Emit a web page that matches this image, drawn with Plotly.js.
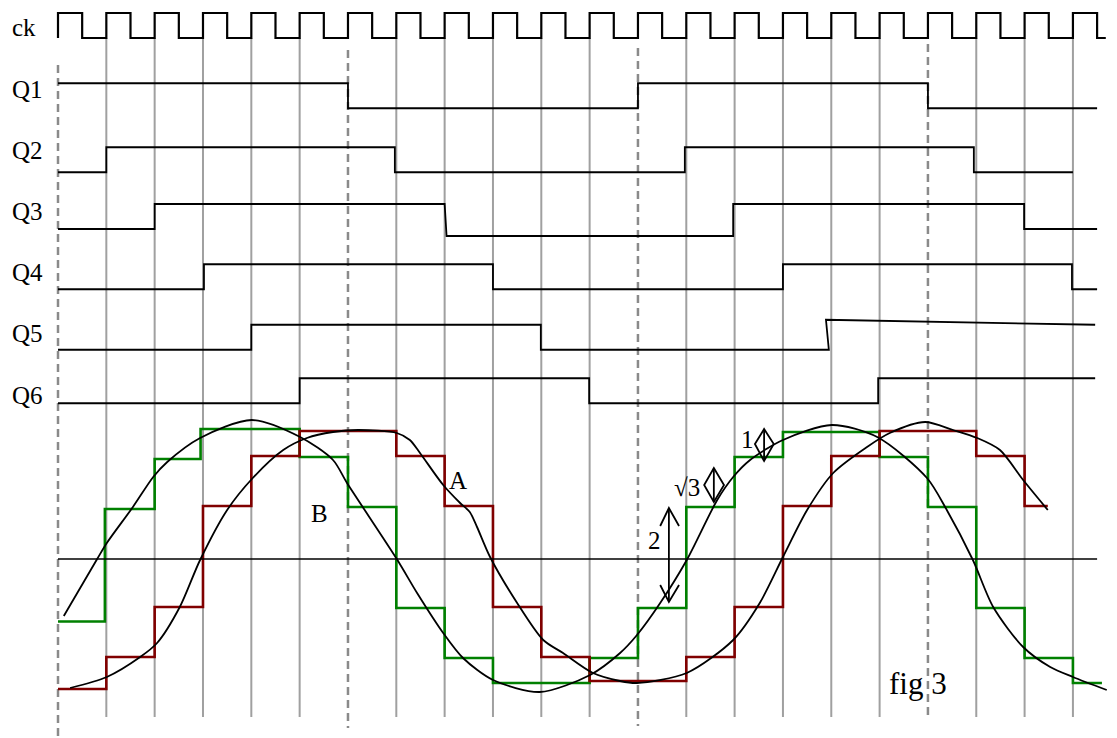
<!DOCTYPE html>
<html><head><meta charset="utf-8">
<script src="https://cdn.plot.ly/plotly-3.0.1.min.js"></script>
<style>html,body{margin:0;padding:0;background:#fff}#chart{width:1117px;height:738px}</style>
</head><body><div id="chart"></div>
<script>
// ---------- DATA (x in clock periods, y in level units) ----------
const ckT = [0, 0,0.5, 1,1.5, 2,2.5, 3,3.5, 4,4.5, 5,5.5, 6,6.5, 7,7.5, 8,8.5, 9,9.5, 10,10.5, 11,11.5, 12,12.5, 13,13.5, 14,14.5, 15,15.5, 16,16.5, 17,17.5, 18,18.5, 19,19.5, 20,20.5, 21,21.5, 21.68];
const ckV = [0, 1,0, 1,0, 1,0, 1,0, 1,0, 1,0, 1,0, 1,0, 1,0, 1,0, 1,0, 1,0, 1,0, 1,0, 1,0, 1,0, 1,0, 1,0, 1,0, 1,0, 1,0, 1,0, 0];

const q1X = [0, 6, 6, 12, 12, 18, 18, 21.5];
const q1Y = [1, 1, 0, 0, 1, 1, 0, 0];
const q2X = [0, 1, 1, 6.97, 6.97, 12.97, 12.97, 18.95, 18.95, 21.0];
const q2Y = [0, 0, 1, 1, 0, 0, 1, 1, 0, 0];
const q3X = [0, 2, 2, 8.0, 8.04, 13.97, 13.97, 19.99, 19.99, 21.5];
const q3Y = [0, 0, 1, 1, -0.28, -0.28, 1, 1, 0, 0];
const q4X = [0, 3.02, 3.02, 9.0, 9.0, 15.0, 15.0, 20.98, 20.98, 21.5];
const q4Y = [0, 0, 1, 1, 0, 0, 1, 1, 0, 0];
const q5X = [0, 4, 4, 9.99, 9.99, 15.95, 15.89, 21.46];
const q5Y = [0, 0, 1, 1, 0, 0, 1.2, 1.0];
const q6X = [0, 5, 5, 10.99, 10.99, 16.97, 16.97, 21.46];
const q6Y = [0, 0, 1, 1, 0, 0, 1, 1];

// staircases: step start times and levels (hold until next time)
const greenT = [0, 0.97, 2, 2.95, 5, 6, 7, 8, 9, 11, 12, 13, 14, 15, 17, 18, 19, 20, 21, 21.6];
const greenV = [-2.5, 2.0, 4.0, 5.2, 4.08, 2.08, -1.96, -3.96, -4.96, -3.96, -1.96, 2.08, 4.08, 5.08, 4.08, 2.08, -1.96, -3.96, -4.96, -4.96];
const redT = [0, 1, 2, 3, 4, 5, 7, 8, 9, 10, 11, 13, 14, 15, 16, 17, 19, 20, 20.48];
const redV = [-5.2, -3.92, -1.92, 2.12, 4.12, 5.12, 4.12, 2.12, -1.92, -3.92, -4.88, -3.92, -1.92, 2.12, 4.12, 5.12, 4.12, 2.12, 2.12];

// smooth curves
const curveBX = [0.12, 0.81, 1.01, 1.55, 1.97, 2.26, 2.94, 4.01, 5.01, 5.69, 5.98, 7.01, 7.43, 7.97, 8.38, 9.00, 9.97, 11.01, 11.63, 11.98, 12.46, 13.01, 13.64, 13.97, 14.32, 15.00, 16.01, 16.95, 17.98, 18.39, 18.93, 19.35, 19.97, 20.53, 21.00, 21.70];
const curveBY = [-2.28, 0, 0.64, 2.08, 3.28, 3.88, 4.84, 5.56, 4.88, 3.96, 3.04, 0, -1.36, -2.96, -3.96, -4.84, -5.32, -4.64, -3.76, -3.04, -1.76, -0.04, 2.36, 3.28, 3.96, 4.76, 5.36, 4.88, 3.24, 1.96, -0.04, -1.92, -3.52, -4.32, -4.72, -5.24];
const curveAX = [0.25, 1.01, 1.70, 2.05, 2.52, 2.94, 3.50, 4.03, 4.66, 5.15, 5.69, 6.21, 7.01, 7.28, 7.49, 7.97, 8.32, 8.52, 8.67, 8.94, 9.50, 10.04, 10.45, 11.07, 11.63, 11.98, 13.01, 13.97, 14.52, 15.00, 15.50, 16.04, 16.74, 17.21, 17.94, 18.52, 19.02, 19.49, 19.97, 20.48];
const curveAY = [-5.16, -4.72, -3.92, -3.36, -1.92, -0.04, 1.96, 3.24, 4.36, 4.84, 5.08, 5.16, 5.04, 4.76, 4.24, 2.96, 2.24, 1.88, 1.28, 0.08, -1.76, -3.24, -3.76, -4.56, -4.88, -4.96, -4.56, -3.24, -1.76, 0.08, 1.96, 3.44, 4.48, 5.04, 5.48, 5.16, 4.84, 4.36, 3.16, 1.96];

const rowNames = ["ck", "Q1", "Q2", "Q3", "Q4", "Q5", "Q6"];

// ---------- LAYOUT CONSTANTS ----------
const rowBase = {ck: 20.84, Q1: 18.03, Q2: 15.47, Q3: 13.2, Q4: 10.79, Q5: 8.37, Q6: 6.23};
const labelY = {ck: 21.28, Q1: 18.8, Q2: 16.36, Q3: 13.92, Q4: 11.48, Q5: 9.04, Q6: 6.56};
const FONT = "Liberation Serif, Times New Roman, serif";

function sig(x, y, base, w) {
  return {x: x, y: y.map(v => v + base), mode: 'lines', type: 'scatter',
          line: {color: '#000', width: w || 1.8}, hoverinfo: 'skip'};
}
const traces = [];
traces.push({x: greenT, y: greenV, mode: 'lines', line: {color: '#008000', width: 2.6, shape: 'hv'}, hoverinfo: 'skip'});
traces.push({x: redT, y: redV, mode: 'lines', line: {color: '#800000', width: 2.6, shape: 'hv'}, hoverinfo: 'skip'});
traces.push({x: [0, 21.5], y: [0, 0], mode: 'lines', line: {color: '#000', width: 1.6}, hoverinfo: 'skip'});
traces.push({x: curveBX, y: curveBY, mode: 'lines', line: {color: '#000', width: 1.8, shape: 'spline', smoothing: 0.8}, hoverinfo: 'skip'});
traces.push({x: curveAX, y: curveAY, mode: 'lines', line: {color: '#000', width: 1.8, shape: 'spline', smoothing: 0.8}, hoverinfo: 'skip'});
traces.push({x: ckT, y: ckV.map(v => v + rowBase.ck), mode: 'lines', line: {color: '#000', width: 2.2, shape: 'hv'}, hoverinfo: 'skip'});
traces.push(sig(q1X, q1Y, rowBase.Q1));
traces.push(sig(q2X, q2Y, rowBase.Q2));
traces.push(sig(q3X, q3Y, rowBase.Q3));
traces.push(sig(q4X, q4Y, rowBase.Q4));
traces.push(sig(q5X, q5Y, rowBase.Q5));
traces.push(sig(q6X, q6Y, rowBase.Q6));

const shapes = [];
for (let i = 1; i <= 21; i++) {
  if (i % 6 === 0) continue;
  shapes.push({type: 'line', xref: 'x', yref: 'y', x0: i, x1: i, y0: 20.84, y1: -6.32,
               line: {color: '#a0a0a0', width: 2}, layer: 'below'});
}
const dashed = [[0, 19.76, -7.16], [6, 20.36, -6.76], [12, 20.44, -6.68], [18, 20.6, -6.24]];
dashed.forEach(d => shapes.push({type: 'line', xref: 'x', yref: 'y', x0: d[0], x1: d[0], y0: d[1], y1: d[2],
  line: {color: '#8a8a8a', width: 2.5, dash: '8px,5px'}, layer: 'below'}));

const arrowX = 12.64, arrowTop = 2.04, arrowBot = -1.72;
shapes.push({type: 'line', xref: 'x', yref: 'y', x0: arrowX, x1: arrowX, y0: arrowTop, y1: arrowBot, line: {color: '#000', width: 1.8}});
shapes.push({type: 'path', xref: 'x', yref: 'y', path: `M12.46,1.32 L${arrowX},${arrowTop} L12.85,1.32`, line: {color: '#000', width: 1.8}});
shapes.push({type: 'path', xref: 'x', yref: 'y', path: `M12.46,-1.04 L${arrowX},${arrowBot} L12.85,-1.04`, line: {color: '#000', width: 1.8}});
function diamond(cx, l, r, top, mid, bot) {
  shapes.push({type: 'path', xref: 'x', yref: 'y', path: `M${cx},${top} L${r},${mid} L${cx},${bot} L${l},${mid} Z`, line: {color: '#000', width: 1.8}});
  shapes.push({type: 'line', xref: 'x', yref: 'y', x0: cx, x1: cx, y0: top, y1: bot, line: {color: '#000', width: 1.8}});
}
diamond(13.57, 13.37, 13.78, 3.64, 2.96, 2.28);
diamond(14.61, 14.42, 14.81, 5.2, 4.6, 3.92);

const annotations = rowNames.map(n => ({x: -0.993, y: labelY[n], xref: 'x', yref: 'y', text: n, showarrow: false,
  xanchor: 'left', yanchor: 'middle', font: {family: FONT, size: 25, color: '#000'}}));
const notes = [
  {t: 'A', x: 8.28, y: 3.16, s: 25},
  {t: 'B', x: 5.42, y: 1.84, s: 25},
  {t: 'fig 3', x: 17.79, y: -4.96, s: 31},
  {t: '2', x: 12.35, y: 0.76, s: 25},
  {t: '√3', x: 13.02, y: 2.88, s: 25},
  {t: '1', x: 14.26, y: 4.8, s: 25}
];
notes.forEach(n => annotations.push({x: n.x, y: n.y, xref: 'x', yref: 'y', text: n.t, showarrow: false,
  xanchor: 'center', yanchor: 'middle', font: {family: FONT, size: n.s, color: '#000'}}));

const layout = {
  width: 1117, height: 738,
  margin: {l: 0, r: 0, t: 0, b: 0},
  paper_bgcolor: '#fff', plot_bgcolor: '#fff',
  showlegend: false,
  xaxis: {range: [-58 / 48.33, (1117 - 58) / 48.33], visible: false, fixedrange: true},
  yaxis: {range: [(559 - 738) / 25, 559 / 25], visible: false, fixedrange: true},
  shapes: shapes,
  annotations: annotations
};
Plotly.newPlot('chart', traces, layout, {staticPlot: true, displayModeBar: false});
</script>
</body></html>
